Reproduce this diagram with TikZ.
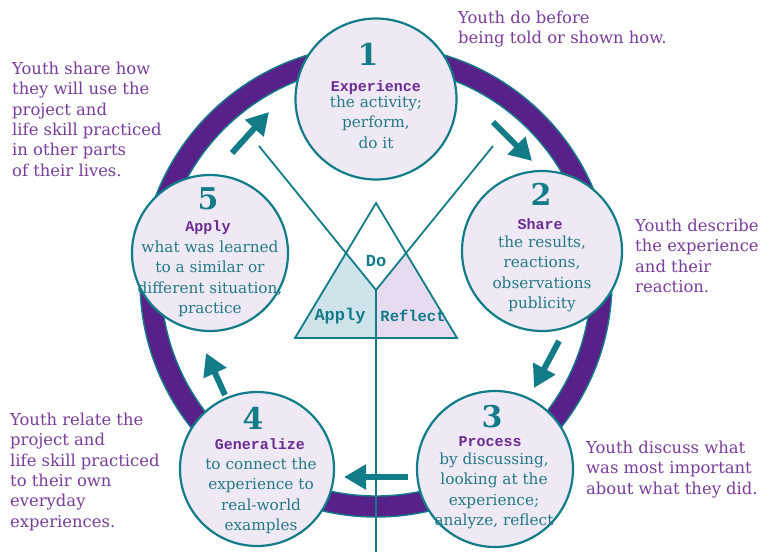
\documentclass[tikz,border=0pt]{standalone}
\usepackage{fontspec}
\setmainfont{DejaVu Serif}
\newfontfamily\slabfont{Liberation Mono}
\newfontfamily\numfont{DejaVu Serif}
\usetikzlibrary{arrows.meta}

\definecolor{cycTeal}{HTML}{127C88}
\definecolor{cycBody}{HTML}{247A85}
\definecolor{cycRing}{HTML}{58218A}
\definecolor{cycTitle}{HTML}{6A2B92}
\definecolor{cycSide}{HTML}{7A3E9C}
\definecolor{cycFill}{HTML}{EEE9F5}
\definecolor{cycApplyFill}{HTML}{CFE3EB}
\definecolor{cycReflectFill}{HTML}{E7DBF0}

\tikzset{
  stage/.style={circle, draw=cycTeal, line width=2.2pt, fill=cycFill, inner sep=0pt},
  stagenum/.style={text=cycTeal, font=\numfont\bfseries\fontsize{30}{30}\selectfont, inner sep=0pt},
  stagettl/.style={text=cycTitle, font=\slabfont\bfseries\fontsize{15}{15}\selectfont, anchor=base, inner sep=0pt},
  stagebody/.style={text=cycBody, font=\fontsize{15.3}{20.5}\selectfont, align=center, inner sep=0pt},
  sidenote/.style={text=cycSide, font=\fontsize{16.4}{20.3}\selectfont, align=left, anchor=north west, inner sep=0pt},
  trilabel/.style={text=cycTeal, font=\slabfont\bfseries\fontsize{17}{17}\selectfont, inner sep=0pt},
  thinline/.style={draw=cycTeal, line width=1.8pt},
  flow/.style={draw=cycTeal, line width=6pt, -{Triangle[length=22pt,width=24pt]}}
}

\begin{document}
\begin{tikzpicture}[x=1pt,y=-1pt]
\useasboundingbox (0,0) rectangle (762,552);
\fill[white] (0,0) rectangle (762,552);

% outer ring
\coordinate (hub) at (376,281);
\draw[cycRing, line width=21pt] (hub) circle[radius=225.5];
\draw[cycTeal, line width=1.4pt] (hub) circle[radius=236];
\draw[cycTeal, line width=1.4pt] (hub) circle[radius=215];

% central triangle
\coordinate (tTop) at (376,203);
\coordinate (tL) at (295,338);
\coordinate (tR) at (457,338);
\coordinate (tJ) at (376,290);
\coordinate (tB) at (376,338);
\coordinate (cutL) at (346,253);
\coordinate (cutR) at (406,253);
\coordinate (lineL) at (259,146);
\coordinate (lineR) at (493,146);
\coordinate (stem) at (376,552);

\fill[cycApplyFill] (tL) -- (cutL) -- (tJ) -- (tB) -- cycle;
\fill[cycReflectFill] (tB) -- (tJ) -- (cutR) -- (tR) -- cycle;
\draw[thinline, line join=miter] (tTop) -- (tL) -- (tR) -- cycle;
\draw[thinline] (lineL) -- (tJ) -- (lineR);
\draw[thinline] (tJ) -- (stem);

\node[trilabel] (doLbl) at (376,261) {Do};
\node[trilabel] (applyLbl) at (340,316) {Apply};
\node[trilabel, font=\slabfont\bfseries\fontsize{15.5}{15.5}\selectfont] (reflectLbl) at (413,316) {Reflect};

% stage circles
\node[stage, minimum size=161pt] (s1) at (376,99) {};
\node[stage, minimum size=160pt] (s2) at (542,251) {};
\node[stage, minimum size=156pt] (s3) at (495,469) {};
\node[stage, minimum size=154pt] (s4) at (257,469) {};
\node[stage, minimum size=156pt] (s5) at (210,253) {};

% stage 1
\node[stagenum] (n1) at (368,54) {1};
\node[stagettl] (t1) at (376,91) {Experience};
\node[stagebody] (b1) at (376,122) {the activity;\\perform,\\do it};
% stage 2
\node[stagenum] (n2) at (541,194) {2};
\node[stagettl] (t2) at (540,229) {Share};
\node[stagebody] (b2) at (542,274) {the results,\\reactions,\\observations\\publicity};
% stage 3
\node[stagenum] (n3) at (492,417) {3};
\node[stagettl] (t3) at (490,446) {Process};
\node[stagebody] (b3) at (494,491) {by discussing,\\looking at the\\experience;\\analyze, reflect};
% stage 4
\node[stagenum] (n4) at (253,418) {4};
\node[stagettl] (t4) at (260,449) {Generalize};
\node[stagebody] (b4) at (261,496) {to connect the\\experience to\\real-world\\examples};
% stage 5
\node[stagenum] (n5) at (208,199) {5};
\node[stagettl] (t5) at (208,231) {Apply};
\node[stagebody] (b5) at (210,279) {what was learned\\to a similar or\\different situation,\\practice};

% flow arrows between stages
\coordinate (a1s) at (493,122); \coordinate (a1e) at (532,161);
\coordinate (a2s) at (559,341); \coordinate (a2e) at (534,388);
\coordinate (a3s) at (408,477); \coordinate (a3e) at (344,477);
\coordinate (a4s) at (225,395); \coordinate (a4e) at (206,353);
\coordinate (a5s) at (232,153); \coordinate (a5e) at (269,112);
\draw[flow] (a1s) -- (a1e);
\draw[flow] (a2s) -- (a2e);
\draw[flow] (a3s) -- (a3e);
\draw[flow] (a4s) -- (a4e);
\draw[flow] (a5s) -- (a5e);

% side notes
\node[sidenote] (noteDo) at (458,11) {Youth do before\\being told or shown how.};
\node[sidenote] (noteApply) at (12,62) {Youth share how\\they will use the\\project and\\life skill practiced\\in other parts\\of their lives.};
\node[sidenote] (noteShare) at (635,219) {Youth describe\\the experience\\and their\\reaction.};
\node[sidenote] (noteGen) at (10,413) {Youth relate the\\project and\\life skill practiced\\to their own\\everyday\\experiences.};
\node[sidenote] (noteProc) at (586,441) {Youth discuss what\\was most important\\about what they did.};
\end{tikzpicture}
\end{document}
